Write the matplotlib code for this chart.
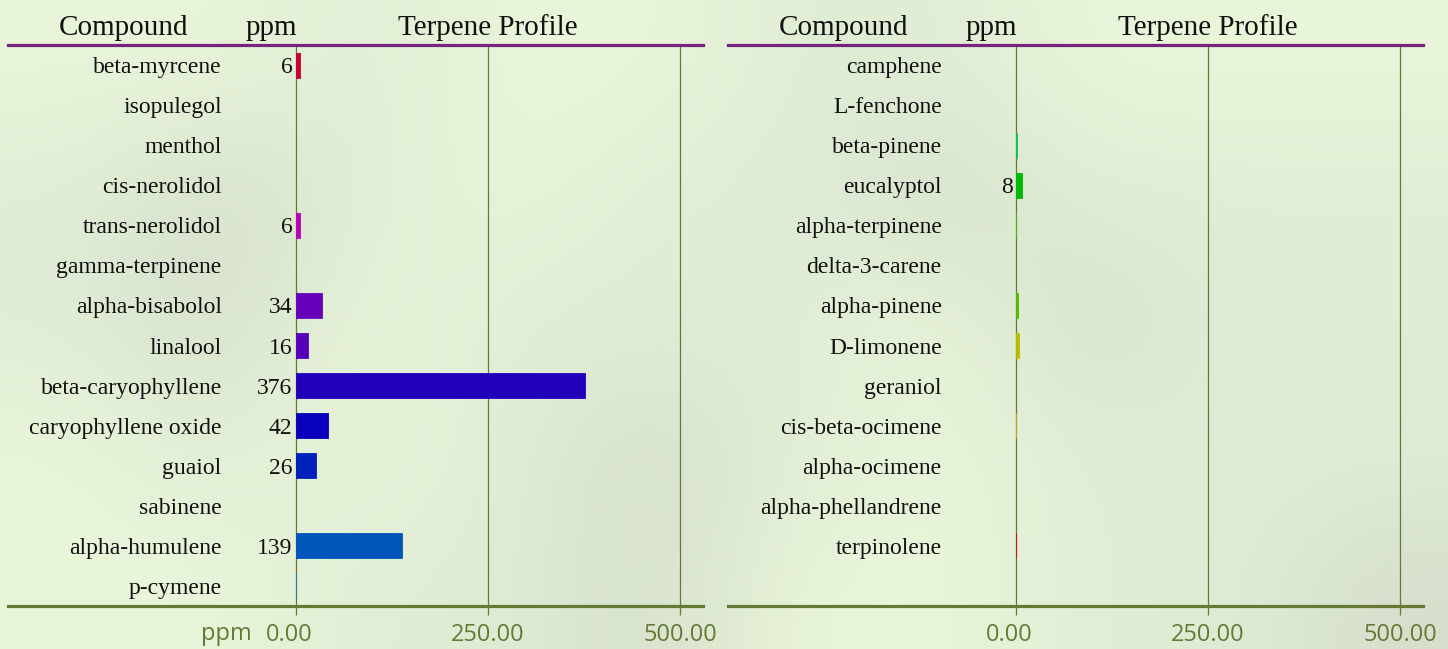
import numpy as np
import matplotlib
matplotlib.use('Agg')
import matplotlib.pyplot as plt
from matplotlib.colors import to_rgb
from matplotlib.transforms import ScaledTranslation

# Terpene data, left and right panels (top to bottom)
left_names = ['beta-myrcene', 'isopulegol', 'menthol', 'cis-nerolidol', 'trans-nerolidol',
              'gamma-terpinene', 'alpha-bisabolol', 'linalool', 'beta-caryophyllene',
              'caryophyllene oxide', 'guaiol', 'sabinene', 'alpha-humulene', 'p-cymene']
left_ppm = [6, 0, 0, 0, 6, 0, 34, 16, 376, 42, 26, 0, 139, 0.5]
left_colors = ['#cc0033', '#bb00aa', '#bb00bb', '#bb00bb', '#bb00bb', '#8800bb', '#6600bb',
               '#5500bb', '#2200bb', '#0800bb', '#0020bb', '#0040bb', '#0055bb', '#0088cc']

right_names = ['camphene', 'L-fenchone', 'beta-pinene', 'eucalyptol', 'alpha-terpinene',
               'delta-3-carene', 'alpha-pinene', 'D-limonene', 'geraniol', 'cis-beta-ocimene',
               'alpha-ocimene', 'alpha-phellandrene', 'terpinolene']
right_ppm = [0, 0, 2, 8, 0.5, 0, 3.5, 4.5, 0, 1, 0, 0, 1]
right_colors = ['#00cc88', '#00cc66', '#00cc44', '#00bb00', '#33cc00', '#44cc00', '#55bb00',
                '#bbbb00', '#ccaa00', '#ddaa00', '#dd7700', '#dd4400', '#dd0000']

ticks = [0, 250, 500]
tick_labels = ['0.00', '250.00', '500.00']

olive = '#667a35'
purple = '#75257f'

fig = plt.figure(figsize=(14.48, 6.49), dpi=100)

# soft blurred background
bg_rows = ['LLMLLMMLLL',
           'MGMLMMGMMM',
           'MGLMMMLGMM',
           'LMLMGMLMMM',
           'LLMMGLLMMG']
shade = {'L': to_rgb('#eaf6da'), 'M': to_rgb('#e0edd5'), 'G': to_rgb('#d5decb')}
bg = np.array([[shade[c] for c in row] for row in bg_rows])
bax = fig.add_axes([0, 0, 1, 1], zorder=-10)
bax.imshow(bg, aspect='auto', interpolation='bicubic', extent=[0, 1, 0, 1])
bax.axis('off')

serif = 'Liberation Serif'


def panel(rect, names, ppm, colors, show_ppm_label):
    ax = fig.add_axes(rect)
    ax.patch.set_alpha(0)
    y = np.arange(len(names))
    ax.barh(y, ppm, height=0.625, color=colors, edgecolor=colors,
            linewidth=[0.6 if v > 0 else 0 for v in ppm], zorder=3)
    for v in ticks:
        ax.axvline(v, color=olive, lw=0.9, zorder=2)
    for yi, name, v in zip(y, names, ppm):
        ax.text(-96, yi, name, ha='right', va='center_baseline', family=serif,
                fontsize=17, color='#111111')
        if v >= 5:
            ax.text(-4, yi, f'{v:.0f}', ha='right', va='center_baseline', family=serif,
                    fontsize=17, color='#111111')
    ax.set_xlim(-374, 530)
    ax.set_ylim(13.5, -0.5)
    ax.set_yticks([])
    ax.set_xticks(ticks)
    ax.set_xticklabels(tick_labels, family='Open Sans', fontsize=17, color=olive)
    ax.tick_params(axis='x', length=6.5, width=0.9, color=olive, pad=6)
    first = ax.get_xticklabels()[0]
    first.set_transform(first.get_transform() + ScaledTranslation(-6 / 100, 0, fig.dpi_scale_trans))
    for s in ['left', 'right']:
        ax.spines[s].set_visible(False)
    ax.spines['top'].set_color(purple)
    ax.spines['top'].set_linewidth(2.3)
    ax.spines['bottom'].set_color(olive)
    ax.spines['bottom'].set_linewidth(2.3)
    # header row
    hy = 1.018
    for x, txt in [(-224, 'Compound'), (-32, 'ppm'), (250, 'Terpene Profile')]:
        ax.text(x, hy, txt, transform=ax.get_xaxis_transform(), ha='center',
                va='baseline', family=serif, fontsize=21, color='#111111')
    if show_ppm_label:
        ax.text(-57, -0.05, 'ppm', transform=ax.get_xaxis_transform(), ha='right',
                va='center', family='Open Sans', fontsize=17, color=olive)
    return ax


panel([8 / 1448, 43 / 649, 695 / 1448, 561 / 649], left_names, left_ppm, left_colors, True)
panel([728 / 1448, 43 / 649, 695 / 1448, 561 / 649], right_names, right_ppm, right_colors, False)

fig.savefig('out.png', dpi=100)
